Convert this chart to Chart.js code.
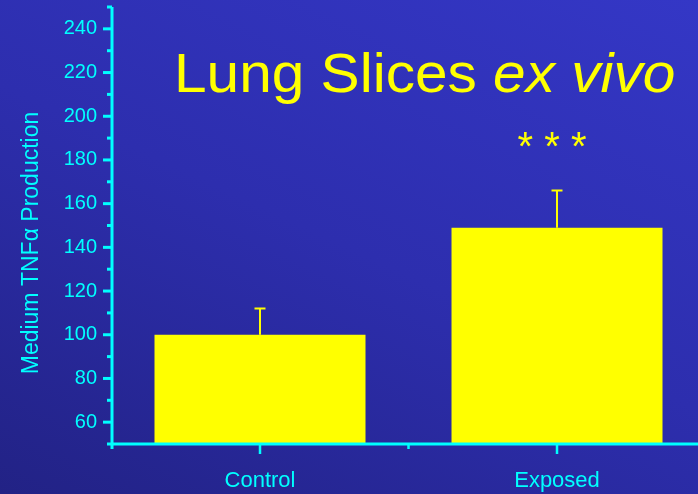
<!DOCTYPE html>
<html>
<head>
<meta charset="utf-8">
<script src="https://cdn.jsdelivr.net/npm/chart.js@4.4.1/dist/chart.umd.min.js"></script>
<style>
  body {
    margin: 0;
    width: 698px;
    height: 494px;
    overflow: hidden;
    background: linear-gradient(205deg, #3437c6 0%, #2d2eae 50%, #222285 100%);
  }
</style>
</head>
<body>
<canvas id="myChart" width="698" height="494"></canvas>
<script>
// values
const categories = ['Control', 'Exposed'];
const xPositions = [1, 2];
const means = [100, 149];
const errorTops = [112, 166];
const significance = ['', '* * *'];
const yTickLabels = [60, 80, 100, 120, 140, 160, 180, 200, 220, 240];
const yMin = 50, yMax = 250;

const cyan = '#00ffff';
const yellow = '#ffff00';
const fontFamily = '"Liberation Sans", Arial, sans-serif';

// error bars, stars, axes with major/minor ticks, titles
const decorations = {
    id: 'decorations',
    afterDatasetsDraw(chart) {
        const ctx = chart.ctx;
        const xs = chart.scales.x, ys = chart.scales.y;
        const area = chart.chartArea;
        ctx.save();

        ctx.strokeStyle = yellow;
        ctx.fillStyle = yellow;
        ctx.lineWidth = 2;
        xPositions.forEach((p, i) => {
            const px = xs.getPixelForValue(p);
            const top = ys.getPixelForValue(errorTops[i]);
            const base = ys.getPixelForValue(means[i]);
            ctx.beginPath();
            ctx.moveTo(px, base);
            ctx.lineTo(px, top);
            ctx.moveTo(px - 5.5, top);
            ctx.lineTo(px + 5.5, top);
            ctx.stroke();
            if (significance[i]) {
                ctx.font = '40px ' + fontFamily;
                ctx.textAlign = 'center';
                ctx.textBaseline = 'alphabetic';
                ctx.fillText(significance[i], px - 5, top - 31);
            }
        });

        // axes
        ctx.strokeStyle = cyan;
        ctx.lineWidth = 3;
        ctx.beginPath();
        ctx.moveTo(area.left, area.top);
        ctx.lineTo(area.left, area.bottom + 5);
        ctx.moveTo(area.left, area.bottom);
        ctx.lineTo(area.right, area.bottom);
        ctx.stroke();

        // y ticks every 10, longer where labelled
        for (let v = yMin; v <= yMax; v += 10) {
            const py = ys.getPixelForValue(v);
            const len = yTickLabels.includes(v) ? 9 : 5;
            ctx.beginPath();
            ctx.moveTo(area.left - len, py);
            ctx.lineTo(area.left, py);
            ctx.stroke();
        }
        // x ticks: one under each bar, a short one between
        ctx.lineWidth = 2.5;
        [1, 1.5, 2].forEach(v => {
            const px = xs.getPixelForValue(v);
            const len = xPositions.includes(v) ? 10 : 5;
            ctx.beginPath();
            ctx.moveTo(px, area.bottom);
            ctx.lineTo(px, area.bottom + len);
            ctx.stroke();
        });

        // y axis title
        ctx.fillStyle = cyan;
        ctx.save();
        ctx.translate(38, 243);
        ctx.rotate(-Math.PI / 2);
        ctx.font = '23px ' + fontFamily;
        ctx.textAlign = 'center';
        ctx.textBaseline = 'alphabetic';
        ctx.fillText('Medium TNF\u03b1 Production', 0, 0);
        ctx.restore();

        // chart title, "ex vivo" in italics
        ctx.fillStyle = yellow;
        ctx.save();
        ctx.translate(174, 92);
        ctx.scale(1.065, 1);
        ctx.textAlign = 'left';
        ctx.textBaseline = 'alphabetic';
        ctx.font = '55px ' + fontFamily;
        const first = 'Lung Slices ';
        ctx.fillText(first, 0, 0);
        const w = ctx.measureText(first).width;
        ctx.font = 'italic 55px ' + fontFamily;
        ctx.fillText('ex vivo', w, 0);
        ctx.restore();

        ctx.restore();
    }
};

const ctx = document.getElementById('myChart').getContext('2d');
new Chart(ctx, {
    type: 'bar',
    data: {
        datasets: [{
            data: xPositions.map((p, i) => ({ x: p, y: means[i] })),
            backgroundColor: yellow,
            borderWidth: 0,
            categoryPercentage: 0.8,
            barPercentage: 0.888
        }]
    },
    options: {
        responsive: false,
        animation: false,
        layout: { padding: { top: 7, right: 0, left: 0, bottom: 0 } },
        scales: {
            x: {
                type: 'linear',
                offset: false,
                min: 0.5017,
                max: 2.4747,
                afterBuildTicks: s => { s.ticks = xPositions.map(v => ({ value: v })); },
                afterFit: s => { s.height = 50; s.paddingLeft = 0; s.paddingRight = 0; },
                ticks: {
                    callback: v => categories[xPositions.indexOf(v)] ?? '',
                    color: cyan,
                    font: { family: fontFamily, size: 22 },
                    padding: 24,
                    maxRotation: 0,
                    autoSkip: false
                },
                grid: { display: false, drawTicks: false, offset: false },
                border: { display: false }
            },
            y: {
                min: yMin,
                max: yMax,
                afterBuildTicks: s => { s.ticks = yTickLabels.map(v => ({ value: v })); },
                afterFit: s => { s.width = 112; s.paddingTop = 0; s.paddingBottom = 0; },
                ticks: {
                    color: cyan,
                    font: { family: fontFamily, size: 20 },
                    padding: 15
                },
                grid: { display: false, drawTicks: false },
                border: { display: false }
            }
        },
        plugins: {
            legend: { display: false },
            tooltip: { enabled: false }
        }
    },
    plugins: [decorations]
});
</script>
</body>
</html>
